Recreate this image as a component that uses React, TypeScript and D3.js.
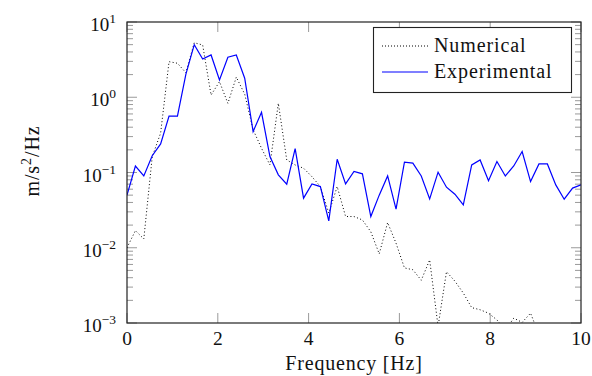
import React from "react";
import * as d3 from "d3";

// Frequency grid step of the spectra (Hz)
const freqStep = 10 / 54;

// Power spectral density, numerical model (m/s^2/Hz)
const numerical = [
  0.0100, 0.0169, 0.0131, 0.162, 0.334, 2.97, 2.83, 2.12, 5.3, 4.95,
  1.07, 1.61, 0.83, 1.85, 1.1, 0.37, 0.21, 0.126, 0.83, 0.147,
  0.126, 0.114, 0.088, 0.065, 0.029, 0.065, 0.026, 0.026, 0.0234, 0.0163,
  0.0083, 0.0216, 0.0115, 0.0054, 0.0051, 0.0037, 0.0069, 0.0009, 0.0048, 0.0036,
  0.0025, 0.0016, 0.0015, 0.00135, 0.0011, 0.0008, 0.00116, 0.00102, 0.00135, 0.0007,
  0.0006, 0.0005, 0.0005, 0.0004, 0.0004,
];

// Power spectral density, measured (m/s^2/Hz)
const experimental = [
  0.050, 0.122, 0.090, 0.167, 0.240, 0.56, 0.56, 2.02, 5.0, 3.23,
  3.65, 1.70, 3.40, 3.65, 1.79, 0.35, 0.63, 0.163, 0.093, 0.070,
  0.207, 0.0456, 0.0706, 0.065, 0.0228, 0.150, 0.0706, 0.103, 0.096, 0.026,
  0.050, 0.090, 0.0326, 0.137, 0.133, 0.090, 0.0446, 0.101, 0.0638, 0.0515,
  0.0372, 0.126, 0.147, 0.078, 0.140, 0.090, 0.122, 0.19, 0.0757, 0.130,
  0.130, 0.0684, 0.0442, 0.062, 0.0684,
];

const xTicks = [0, 2, 4, 6, 8, 10];
const yDecades = [-3, -2, -1, 0, 1];
const seriesNames = ["Numerical", "Experimental"];

const W = 592;
const H = 376;
const left = 127;
const right = 581;
const top = 22;
const bottom = 323;
const font = "'Liberation Serif', 'Times New Roman', serif";
const tickColor = "#9a9a9a";
const textColor = "#111";
const wordSpacing = 0.9;

export default function App() {
  const x = d3.scaleLinear().domain([0, 10]).range([left, right]);
  const y = d3.scaleLog().domain([1e-3, 10]).range([bottom, top]);

  const line = d3
    .line<number>()
    .x((_, i) => x(i * freqStep))
    .y((d) => y(d));

  const minorTicks: number[] = [];
  for (let e = -3; e < 1; e++) {
    for (let m = 2; m <= 9; m++) minorTicks.push(m * Math.pow(10, e));
  }

  const majorLen = 10;
  const minorLen = 6;

  return (
    <svg
      width={W}
      height={H}
      style={{ position: "absolute", left: 0, top: 0, background: "#fff" }}
      fontFamily={font}
    >
      <defs>
        <clipPath id="plot-clip">
          <rect x={left} y={top} width={right - left} height={bottom - top} />
        </clipPath>
      </defs>

      {/* x ticks, bottom and top, pointing inward */}
      {xTicks.map((t) => (
        <g key={"xt" + t}>
          <line x1={x(t)} x2={x(t)} y1={bottom} y2={bottom - majorLen} stroke={tickColor} strokeWidth={1} />
          <line x1={x(t)} x2={x(t)} y1={top} y2={top + majorLen} stroke={tickColor} strokeWidth={1} />
        </g>
      ))}

      {/* y ticks, left and right */}
      {yDecades.map((e) => {
        const v = y(Math.pow(10, e));
        return (
          <g key={"yt" + e}>
            <line x1={left} x2={left + majorLen} y1={v} y2={v} stroke={tickColor} strokeWidth={1} />
            <line x1={right} x2={right - majorLen} y1={v} y2={v} stroke={tickColor} strokeWidth={1} />
          </g>
        );
      })}
      {minorTicks.map((m) => {
        const v = y(m);
        return (
          <g key={"ym" + m}>
            <line x1={left} x2={left + minorLen} y1={v} y2={v} stroke={tickColor} strokeWidth={1} />
            <line x1={right} x2={right - minorLen} y1={v} y2={v} stroke={tickColor} strokeWidth={1} />
          </g>
        );
      })}

      {/* data */}
      <g clipPath="url(#plot-clip)">
        <path
          d={line(numerical) ?? ""}
          fill="none"
          stroke="#000"
          strokeWidth={1}
          strokeDasharray="1 2.4"
        />
        <path d={line(experimental) ?? ""} fill="none" stroke="#0000ff" strokeWidth={1.2} />
      </g>

      {/* frame */}
      <rect
        x={left}
        y={top}
        width={right - left}
        height={bottom - top}
        fill="none"
        stroke="#222"
        strokeWidth={1.2}
      />

      {/* x tick labels */}
      {xTicks.map((t) => (
        <text key={"xl" + t} x={x(t)} y={bottom + 22} textAnchor="middle" fontSize={19.5} fill={textColor}>
          {t}
        </text>
      ))}

      {/* y tick labels */}
      {yDecades.map((e) => (
        <text key={"yl" + e} x={left - 11} y={y(Math.pow(10, e)) + 9} textAnchor="end" fontSize={19} fill={textColor}>
          <tspan>10</tspan>
          <tspan dy={-8} fontSize={13.5}>
            {e < 0 ? "\u2212" + Math.abs(e) : String(e)}
          </tspan>
        </text>
      ))}

      {/* axis titles */}
      <text
        x={(left + right) / 2}
        y={370}
        textAnchor="middle"
        fontSize={20}
        fill={textColor}
        letterSpacing={0.8}
      >
        Frequency [Hz]
      </text>
      <text
        transform="translate(39,161) rotate(-90)"
        textAnchor="middle"
        fontSize={20}
        fill={textColor}
        letterSpacing={wordSpacing}
      >
        <tspan>m/s</tspan>
        <tspan dy={-8} fontSize={14}>2</tspan>
        <tspan dy={8}>/Hz</tspan>
      </text>

      {/* legend */}
      <g>
        <rect x={373.5} y={27.5} width={198} height={65} fill="#fff" stroke="#222" strokeWidth={1.1} />
        <line x1={382} x2={428} y1={46} y2={46} stroke="#000" strokeWidth={1} strokeDasharray="1 2" />
        <text x={434} y={52} fontSize={20} fill={textColor} letterSpacing={wordSpacing}>
          {seriesNames[0]}
        </text>
        <line x1={382} x2={428} y1={72} y2={72} stroke="#0000ff" strokeWidth={1.2} />
        <text x={434} y={78} fontSize={20} fill={textColor} letterSpacing={wordSpacing}>
          {seriesNames[1]}
        </text>
      </g>
    </svg>
  );
}
